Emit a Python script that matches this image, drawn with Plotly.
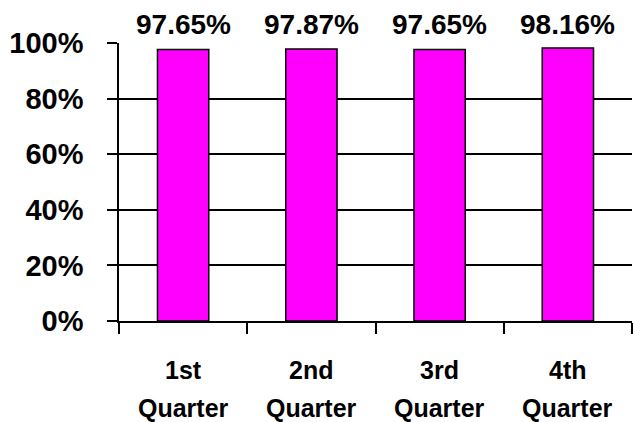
import plotly.graph_objects as go

categories = ["1st Quarter", "2nd Quarter", "3rd Quarter", "4th Quarter"]
values = [0.9765, 0.9787, 0.9765, 0.9816]
value_labels = ["97.65%", "97.87%", "97.65%", "98.16%"]
y_ticks = [0, 0.2, 0.4, 0.6, 0.8, 1.0]

FONT = "Liberation Sans, Arial, sans-serif"

fig = go.Figure()
fig.add_trace(go.Bar(
    x=categories, y=values,
    marker=dict(color="#FF00FF", line=dict(color="black", width=1.5)),
    width=0.4,
    hoverinfo="skip",
))

annotations = []
for c, lab in zip(categories, value_labels):
    annotations.append(dict(x=c, y=1, xref="x", yref="y", text=lab, showarrow=False,
                            yanchor="bottom", yshift=1,
                            font=dict(family=FONT, size=28, color="black", weight="bold")))
for c in categories:
    first, second = c.split(" ")
    annotations.append(dict(x=c, y=0, xref="x", yref="paper", text=first, showarrow=False,
                            yanchor="middle", yshift=-49,
                            font=dict(family=FONT, size=25, color="black", weight="bold")))
    annotations.append(dict(x=c, y=0, xref="x", yref="paper", text=second, showarrow=False,
                            yanchor="middle", yshift=-87,
                            font=dict(family=FONT, size=25, color="black", weight="bold")))

fig.update_layout(
    width=633, height=422,
    margin=dict(l=119, r=1, t=43, b=101, autoexpand=False),
    paper_bgcolor="white", plot_bgcolor="white",
    showlegend=False,
    bargap=0.6,
    annotations=annotations,
)
fig.update_xaxes(
    type="category", automargin=False,
    showline=True, linecolor="black", linewidth=1.5,
    ticks="outside", tickson="boundaries", ticklen=11, tickcolor="black", tickwidth=1.5,
    showticklabels=False, showgrid=False,
    range=[-0.5, 3.5],
)
fig.update_yaxes(
    range=[0, 1], automargin=False,
    tickvals=y_ticks, tickformat=".0%",
    showline=True, linecolor="black", linewidth=1.5,
    ticks="outside", ticklen=10, tickcolor="black", tickwidth=1.5,
    showgrid=True, gridcolor="black", gridwidth=1.5,
    zeroline=False,
    ticklabelstandoff=18,
    tickfont=dict(family=FONT, size=29, color="black", weight="bold"),
)

fig.write_html(
    "out.html",
    config={"displayModeBar": False},
    post_script="document.body.style.margin='0';document.body.style.padding='0';document.body.style.overflow='hidden';",
)
